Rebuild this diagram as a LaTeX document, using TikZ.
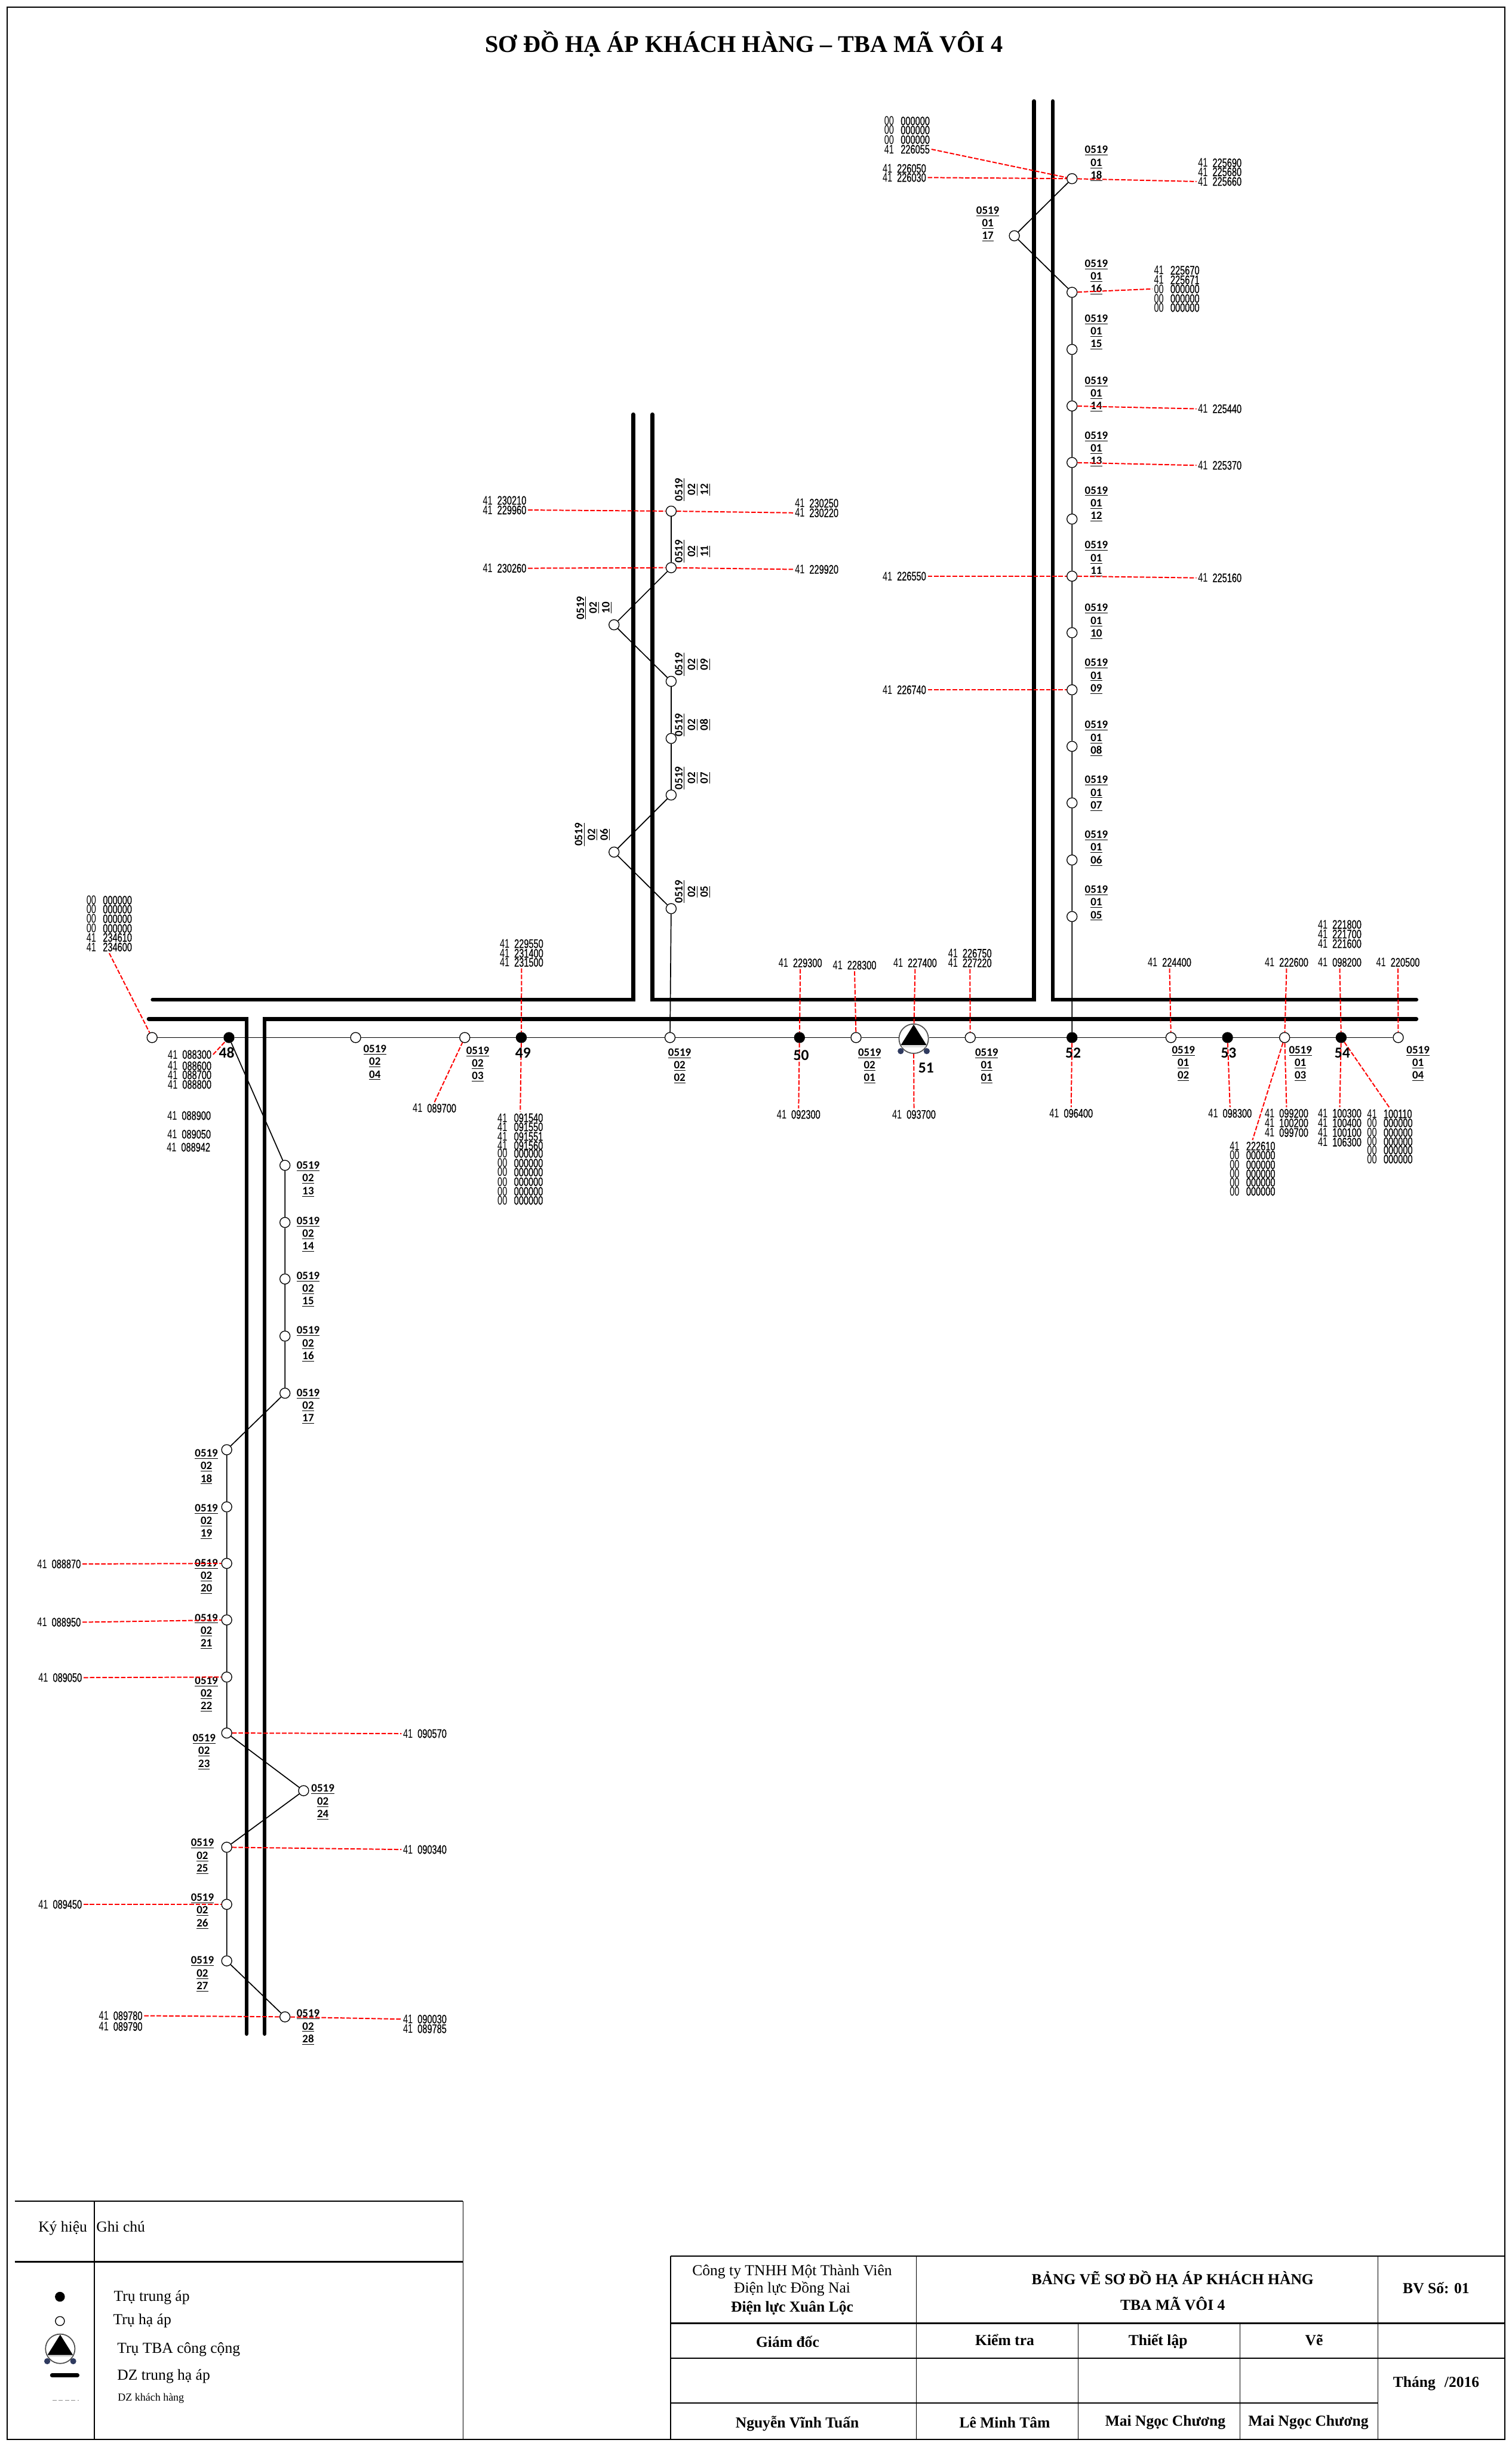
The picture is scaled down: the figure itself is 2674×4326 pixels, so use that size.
\documentclass[tikz,border=0pt]{standalone}
\usepackage{fontspec}
\setmainfont{Liberation Serif}
\newfontfamily\cRm[FakeStretch=0.7]{Liberation Sans}
\newfontfamily\cMd[FakeStretch=0.7,FakeBold=0.5]{Liberation Sans}
\newfontfamily\cbF{Carlito}
\newcommand\cu[5]{\node[cust] (#1) at (#2,#3) {\makebox[12.75pt][l]{#4}{\cMd #5}};}
\newcommand\cw[5]{\node[cust] (#1) at (#2,#3) {\makebox[14.5pt][l]{#4}{\cMd #5}};}
\newcommand\tbasym[2]{%
  \begin{scope}[shift={(#2)}]
    \node[tbac] (#1) at (0,0) {};
    \fill[black] (0,-25) -- (22.5,11) -- (-22.5,11) -- cycle;
    \fill[black!12] (-21,11) rectangle (21,15);
    \fill[tbadot] (-23,22) circle[radius=2.7pt];
    \fill[tbadot] (23,22) circle[radius=2.7pt];
  \end{scope}}
\definecolor{tbadot}{HTML}{2F3A5F}
\tikzset{
  wp/.style={circle,draw=black,fill=white,minimum size=9pt,inner sep=0pt,line width=.7pt},
  bp/.style={circle,draw=black,fill=black,minimum size=9pt,inner sep=0pt,line width=.7pt},
  tbac/.style={circle,draw=black!70,fill=white,minimum size=26pt,inner sep=0pt,line width=.9pt},
  plbase/.style={inner sep=0pt,align=center,font={\cbF\bfseries\fontsize{10}{11.25}\selectfont}},
  plbl/.style={plbase,yshift=-1.2pt},
  plblr/.style={plbase,rotate=90},
  bign/.style={inner sep=0pt,font={\cbF\bfseries\fontsize{13.5}{14}\selectfont}},
  cust/.style={inner sep=0pt,outer sep=1.5pt,anchor=west,xshift=-1.5pt,font={\cRm\fontsize{11}{12}\selectfont}},
  hv/.style={line width=3.5pt,line cap=round,line join=miter},
  thinl/.style={line width=.9pt,black},
  reddash/.style={draw=red,line width=1.05pt,dash pattern=on 4pt off 1.5pt},
  frameline/.style={line width=1pt,black},
  tabline/.style={line width=1.3pt,black},
  tabthin/.style={line width=.7pt,black},
  ttxt/.style={inner sep=0pt,anchor=base,font={\fontsize{13.5}{14}\selectfont}},
  ttxtb/.style={inner sep=0pt,anchor=base,font={\bfseries\fontsize{13.5}{14}\selectfont}},
  lgd/.style={inner sep=0pt,anchor=base west,font={\fontsize{13.5}{14}\selectfont}},
}
\begin{document}
\begin{tikzpicture}[x=0.5pt,y=-0.5pt]
\path[use as bounding box,fill=white] (0,0) rectangle (2674,4326);
\draw[frameline] (13,13) rectangle (2661,4314);
\node[inner sep=0pt,anchor=base,font={\bfseries\fontsize{21.25}{24}\selectfont}] (title) at (1316,92) {SƠ ĐỒ HẠ ÁP KHÁCH HÀNG – TBA MÃ VÔI 4};

% medium-voltage double lines
\coordinate (a1) at (270,1768); \coordinate (a2) at (1120,1768); \coordinate (a3) at (1120,733);
\coordinate (b1) at (1154,733); \coordinate (b2) at (1154,1768); \coordinate (b3) at (1829,1768); \coordinate (b4) at (1829,179);
\coordinate (c1) at (1862,179); \coordinate (c2) at (1862,1768); \coordinate (c3) at (2505,1768);
\coordinate (d1) at (263,1802); \coordinate (d2) at (436,1802); \coordinate (d3) at (436,3597);
\coordinate (e1) at (468,3597); \coordinate (e2) at (468,1802); \coordinate (e3) at (2505,1802);
\draw[hv] (a1) -- (a2) -- (a3);
\draw[hv] (b1) -- (b2) -- (b3) -- (b4);
\draw[hv] (c1) -- (c2) -- (c3);
\draw[hv] (d1) -- (d2) -- (d3);
\draw[hv] (e1) -- (e2) -- (e3);

% poles on the main line
\foreach \n/\x in {w0/269,0204/629,0203/822,0202/1185,0201/1514,0101/1716,0102/2071,0103/2272,0104/2473}
  \node[wp] (p\n) at (\x,1835) {};
\foreach \n/\x in {48/405,49/922,50/1414,52/1896,53/2171,54/2372}
  \node[bp] (p\n) at (\x,1835) {};
\tbasym{p51}{1616,1837}

% branch 01
\foreach \n/\x/\y in {0118/1896/316,0117/1794/417,0116/1896/517,0115/1896/618,0114/1896/718,0113/1896/818,0112/1896/918,0111/1896/1019,0110/1896/1119,0109/1896/1220,0108/1896/1320,0107/1896/1420,0106/1896/1521,0105/1896/1621}
  \node[wp] (p\n) at (\x,\y) {};
% branch 02 upper
\foreach \n/\x/\y in {0212/1187/904,0211/1187/1004,0210/1086/1105,0209/1187/1205,0208/1187/1306,0207/1187/1406,0206/1086/1507,0205/1187/1607}
  \node[wp] (p\n) at (\x,\y) {};
% branch 02 lower
\foreach \n/\x/\y in {0213/504/2061,0214/504/2162,0215/504/2262,0216/504/2363,0217/504/2464,0218/401/2564,0219/401/2665,0220/401/2765,0221/401/2865,0222/401/2966,0223/401/3065,0224/537/3167,0225/401/3267,0226/401/3368,0227/401/3468,0228/504/3567}
  \node[wp] (p\n) at (\x,\y) {};

% thin low-voltage lines
\draw[thinl] (pw0) -- (p48) -- (p0204) -- (p0203) -- (p49) -- (p0202) -- (p50) -- (p0201) -- (p51.west |- p0201) (p51.east |- p0101) -- (p0101) -- (p52) -- (p0102) -- (p53) -- (p0103) -- (p54) -- (p0104);
\draw[thinl] (p0118) -- (p0117) -- (p0116) -- (p0115) -- (p0114) -- (p0113) -- (p0112) -- (p0111) -- (p0110) -- (p0109) -- (p0108) -- (p0107) -- (p0106) -- (p0105) -- (p52);
\draw[thinl] (p0212) -- (p0211) -- (p0210) -- (p0209) -- (p0208) -- (p0207) -- (p0206) -- (p0205) -- (p0202);
\draw[thinl] (p48) -- (p0213) -- (p0214) -- (p0215) -- (p0216) -- (p0217) -- (p0218) -- (p0219) -- (p0220) -- (p0221) -- (p0222) -- (p0223) -- (p0224) -- (p0225) -- (p0226) -- (p0227) -- (p0228);

% pole labels, horizontal
\foreach \a/\b/\x/\y in {02/04/663/1877,02/03/845/1880,02/02/1202/1883,02/01/1538/1883,01/01/1745/1883,01/02/2093/1879,01/03/2300/1879,01/04/2508/1879,
 01/18/1939/287,01/17/1747/394,01/16/1939/488,01/15/1939/585,01/14/1939/695,01/13/1939/792,01/12/1939/889,01/11/1939/986,01/10/1939/1097,01/09/1939/1194,01/08/1939/1304,01/07/1939/1401,01/06/1939/1498,01/05/1939/1595,
 02/13/545/2083,02/14/545/2181,02/15/545/2278,02/16/545/2375,02/17/545/2485,02/18/365/2592,02/19/365/2689,02/20/365/2786,02/21/365/2883,02/22/365/2994,02/23/361/3096,02/24/571/3185,02/25/358/3281,02/26/358/3378,02/27/358/3489,02/28/545/3583}
  \node[plbl] (l\a\b) at (\x,\y) {\underline{0519}\\\underline{\a}\\\underline{\b}};
% pole labels, rotated
\foreach \b/\x/\y in {12/1225/866,11/1225/975,10/1051/1075,09/1225/1175,08/1225/1282,07/1225/1376,06/1048/1476,05/1225/1577}
  \node[plblr] (l02\b) at (\x,\y) {\underline{0519}\\\underline{02}\\\underline{\b}};

% customer codes, top right
\cw{za1}{1564}{214}{00}{000000}\cw{za2}{1564}{230}{00}{000000}\cw{za3}{1564}{247}{00}{000000}\cw{c226055}{1564}{264}{41}{226055}
\cu{c226050}{1561}{298}{41}{226050}\cu{c226030}{1561}{314}{41}{226030}
\cu{c225690}{2119}{288}{41}{225690}\cu{c225680}{2119}{304}{41}{225680}\cu{c225660}{2119}{321}{41}{225660}
\cw{c225670}{2041}{478}{41}{225670}\cw{c225671}{2041}{495}{41}{225671}\cw{zb1}{2041}{511}{00}{000000}\cw{zb2}{2041}{528}{00}{000000}\cw{zb3}{2041}{544}{00}{000000}
\cu{c225440}{2119}{723}{41}{225440}\cu{c225370}{2119}{823}{41}{225370}\cu{c225160}{2119}{1022}{41}{225160}
\cu{c226550}{1561}{1019}{41}{226550}\cu{c226740}{1561}{1220}{41}{226740}
% branch 02 upper
\cu{c230210}{854}{885}{41}{230210}\cu{c229960}{854}{902}{41}{229960}\cu{c230260}{854}{1005}{41}{230260}
\cu{c230250}{1406}{890}{41}{230250}\cu{c230220}{1406}{907}{41}{230220}\cu{c229920}{1406}{1007}{41}{229920}
% above the main line
\cw{zc1}{153}{1592}{00}{000000}\cw{zc2}{153}{1608}{00}{000000}\cw{zc3}{153}{1625}{00}{000000}\cw{zc4}{153}{1642}{00}{000000}\cw{c234610}{153}{1658}{41}{234610}\cw{c234600}{153}{1675}{41}{234600}
\cu{c229550}{884}{1669}{41}{229550}\cu{c231400}{884}{1686}{41}{231400}\cu{c231500}{884}{1702}{41}{231500}
\cu{c229300}{1377}{1703}{41}{229300}\cu{c228300}{1473}{1707}{41}{228300}\cu{c227400}{1580}{1703}{41}{227400}
\cu{c226750}{1677}{1686}{41}{226750}\cu{c227220}{1677}{1703}{41}{227220}
\cu{c224400}{2030}{1702}{41}{224400}\cu{c222600}{2237}{1702}{41}{222600}
\cu{c221800}{2331}{1635}{41}{221800}\cu{c221700}{2331}{1652}{41}{221700}\cu{c221600}{2331}{1669}{41}{221600}
\cu{c098200}{2331}{1702}{41}{098200}\cu{c220500}{2434}{1702}{41}{220500}
% below the main line
\cu{c088300}{297}{1865}{41}{088300}\cu{c088600}{297}{1885}{41}{088600}\cu{c088700}{297}{1901}{41}{088700}\cu{c088800}{297}{1918}{41}{088800}
\cu{c088900}{296}{1973}{41}{088900}\cu{c089050a}{296}{2006}{41}{089050}\cu{c088942}{295}{2029}{41}{088942}
\cu{c089700}{730}{1960}{41}{089700}
\cw{c091540}{880}{1977}{41}{091540}\cw{c091550}{880}{1993}{41}{091550}\cw{c091551}{880}{2010}{41}{091551}\cw{c091560}{880}{2026}{41}{091560}
\cw{zd1}{880}{2040}{00}{000000}\cw{zd2}{880}{2057}{00}{000000}\cw{zd3}{880}{2073}{00}{000000}\cw{zd4}{880}{2090}{00}{000000}\cw{zd5}{880}{2107}{00}{000000}\cw{zd6}{880}{2123}{00}{000000}
\cu{c092300}{1374}{1971}{41}{092300}\cu{c093700}{1578}{1971}{41}{093700}\cu{c096400}{1856}{1969}{41}{096400}\cu{c098300}{2137}{1969}{41}{098300}
\cu{c099200}{2237}{1969}{41}{099200}\cu{c100200}{2237}{1986}{41}{100200}\cu{c099700}{2237}{2003}{41}{099700}
\cw{c222610}{2175}{2027}{41}{222610}\cw{ze1}{2175}{2043}{00}{000000}\cw{ze2}{2175}{2060}{00}{000000}\cw{ze3}{2175}{2076}{00}{000000}\cw{ze4}{2175}{2091}{00}{000000}\cw{ze5}{2175}{2107}{00}{000000}
\cu{c100300}{2331}{1969}{41}{100300}\cu{c100400}{2331}{1986}{41}{100400}\cu{c100100}{2331}{2003}{41}{100100}\cu{c106300}{2331}{2020}{41}{106300}
\cw{c100110}{2418}{1970}{41}{100110}\cw{zf1}{2418}{1986}{00}{000000}\cw{zf2}{2418}{2003}{00}{000000}\cw{zf3}{2418}{2019}{00}{000000}\cw{zf4}{2418}{2034}{00}{000000}\cw{zf5}{2418}{2050}{00}{000000}
% branch 02 lower
\cu{c088870}{66}{2766}{41}{088870}\cu{c088950}{66}{2869}{41}{088950}\cu{c089050}{68}{2967}{41}{089050}\cu{c089450}{68}{3368}{41}{089450}
\cu{c089780}{175}{3565}{41}{089780}\cu{c089790}{175}{3584}{41}{089790}
\cu{c090570}{713}{3066}{41}{090570}\cu{c090340}{713}{3271}{41}{090340}\cu{c090030}{713}{3571}{41}{090030}\cu{c089785}{713}{3588}{41}{089785}

% customer connectors
\foreach \s/\t in {c226055.east/p0118,c226030.east/p0118,p0118/c225660.west,p0116/zb1.west,p0114/c225440.west,p0113/c225370.west,p0111/c225160.west,c226550.east/p0111,c226740.east/p0109,
 c229960.east/p0212,p0212/c230220.west,c230260.east/p0211,p0211/c229920.west,
 c234600.south/pw0,c088300.east/p48,c089700.north/p0203,c231500.south/p49,p49/c091540.north,
 c229300.south/p50,p50/c092300.north,c228300.south/p0201,c227400.south/p51,p51/c093700.north,c227220.south/p0101,
 p52/c096400.north,c224400.south/p0102,p53/c098300.north,c222600.south/p0103,p0103/c099200.north,p0103/c222610.north,c098200.south/p54,p54/c100300.north,p54/c100110.north,c220500.south/p0104,
 c088870.east/p0220,c088950.east/p0221,c089050.east/p0222,c089450.east/p0226,c089780.east/p0228,p0228/c090030.west,p0223/c090570.west,p0225/c090340.west}
  \draw[reddash] (\s) -- (\t);

% section numbers
\foreach \n/\x/\y in {48/401/1862,49/925/1862,50/1417/1866,51/1638/1889,52/1898/1862,53/2173/1862,54/2374/1862}
  \node[bign] (n\n) at (\x,\y) {\n};

% legend
\coordinate (lg1) at (26,3893); \coordinate (lg2) at (819,3893); \coordinate (lg3) at (819,4314);
\coordinate (lg4) at (26,4000); \coordinate (lg5) at (819,4000); \coordinate (lg6) at (167,3893); \coordinate (lg7) at (167,4314);
\draw[tabline] (lg1) -- (lg2);
\draw[tabline] (lg4) -- (lg5);
\draw[tabthin] (lg2) -- (lg3);
\draw[tabthin] (lg6) -- (lg7);
\node[inner sep=0pt,anchor=base,font={\fontsize{13.5}{14}\selectfont}] (lgk) at (111,3947) {Ký hiệu};
\node[lgd] (lgg) at (170,3947) {Ghi chú};
\node[bp,minimum size=8pt] (lgb) at (106,4062) {};
\node[wp,minimum size=8pt] (lgw) at (106,4105) {};
\tbasym{lgt}{106.5,4154}
\coordinate (lgl1) at (92,4201); \coordinate (lgl2) at (137,4201);
\draw[line width=3.5pt,line cap=round] (lgl1) -- (lgl2);
\coordinate (lgd1) at (93,4245); \coordinate (lgd2) at (139,4245);
\draw[line width=.8pt,black!45,dash pattern=on 3.5pt off 2pt] (lgd1) -- (lgd2);
\node[lgd] (lgt1) at (201,4070) {Trụ trung áp};
\node[lgd] (lgt2) at (200,4111) {Trụ hạ áp};
\node[lgd] (lgt3) at (207,4162) {Trụ TBA công cộng};
\node[lgd] (lgt4) at (207,4209) {DZ trung hạ áp};
\node[lgd,font={\fontsize{9.5}{10}\selectfont}] (lgt5) at (208,4246) {DZ khách hàng};

% title block
\coordinate (t1) at (1186,3990); \coordinate (t2) at (2661,3990); \coordinate (t3) at (1186,4314);
\coordinate (r1) at (1186,4109); \coordinate (r2) at (2661,4109);
\coordinate (r3) at (1186,4171); \coordinate (r4) at (2661,4171);
\coordinate (r5) at (1186,4250); \coordinate (r6) at (2437,4250);
\coordinate (v1a) at (1621,3990); \coordinate (v1b) at (1621,4314);
\coordinate (v2a) at (1907,4109); \coordinate (v2b) at (1907,4314);
\coordinate (v3a) at (2193,4109); \coordinate (v3b) at (2193,4314);
\coordinate (v4a) at (2437,3990); \coordinate (v4b) at (2437,4314);
\draw[tabline] (t1) -- (t2);
\draw[tabline] (r1) -- (r2);
\draw[tabline,line width=1pt] (r3) -- (r4);
\draw[tabline,line width=1pt] (r5) -- (r6);
\draw[tabthin] (t1) -- (t3);
\draw[tabthin] (v1a) -- (v1b);
\draw[tabthin] (v2a) -- (v2b);
\draw[tabthin] (v3a) -- (v3b);
\draw[tabthin] (v4a) -- (v4b);
\node[ttxt] (tc1) at (1401,4024) {Công ty TNHH Một Thành Viên};
\node[ttxt] (tc2) at (1401,4055) {Điện lực Đồng Nai};
\node[ttxtb] (tc3) at (1401,4089) {Điện lực Xuân Lộc};
\node[ttxtb] (tt1) at (2074,4040) {BẢNG VẼ SƠ ĐỒ HẠ ÁP KHÁCH HÀNG};
\node[ttxtb] (tt2) at (2074,4086) {TBA MÃ VÔI 4};
\node[ttxtb] (tb) at (2540,4056) {BV Số: 01};
\node[ttxtb] (th1) at (1393,4151) {Giám đốc};
\node[ttxtb] (th2) at (1777,4148) {Kiểm tra};
\node[ttxtb] (th3) at (2048,4148) {Thiết lập};
\node[ttxtb] (th4) at (2324,4148) {Vẽ};
\node[ttxtb] (tn1) at (1410,4294) {Nguyễn Vĩnh Tuấn};
\node[ttxtb] (tn2) at (1777,4294) {Lê Minh Tâm};
\node[ttxtb] (tn3) at (2061,4291) {Mai Ngọc Chương};
\node[ttxtb] (tn4) at (2314,4291) {Mai Ngọc Chương};
\node[ttxtb] (td) at (2540,4222) {Tháng\hspace{8pt}/2016};
\end{tikzpicture}
\end{document}
